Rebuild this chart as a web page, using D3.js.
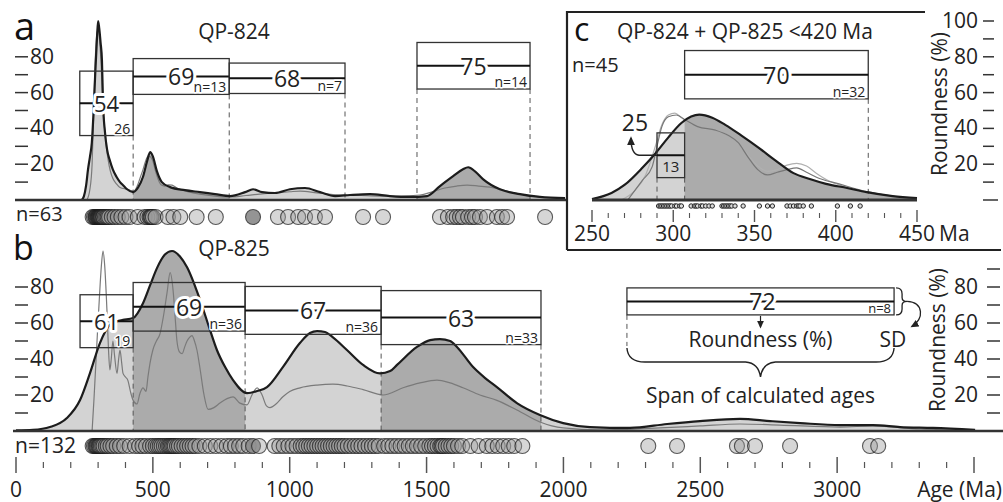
<!DOCTYPE html>
<html><head><meta charset="utf-8">
<script src="https://cdn.jsdelivr.net/npm/d3@7"></script>
<style>
body{margin:0;background:#fff}
svg{display:block;font-family:"Open Sans",sans-serif}
</style></head><body>
<svg width="1003" height="502"></svg>
<script>
// ---------------- DATA ----------------
const ageTicks = [0,500,1000,1500,2000,2500,3000];
const ageTicksC = [250,300,350,400,450];
const roundTicksLeft = [20,40,60,80];
const roundTicksRightA = [20,40,60,80,100];
const roundTicksRightB = [20,40,60,80];

// panel a : QP-824  (KDE curves, [age Ma, relative height])
const kdeA_thick = [[240,0],[248,2],[256,8],[263,17],[270,24],[277,32],[283,48],[289,69],[296,91],[300,100],[304,96],[309,88],[314,78],[318,54],[325,38],[333,28],[343,22],[354,17],[367,13],[380,10],[393,8],[406,6],[428,4.4],[446,7],[464,13],[479,21.7],[490,26.7],[500,24.4],[515,16],[533,10],[563,7.2],[617,5.5],[672,4.4],[727,3.3],[782,2.2],[837,4.4],[866,6],[899,4.4],[946,3.9],[1001,6],[1056,6.7],[1111,4.4],[1166,2.2],[1220,2.8],[1293,3.3],[1366,2.2],[1440,1.7],[1502,2.2],[1549,7.8],[1597,13.3],[1633,17.2],[1652,18.3],[1677,16],[1706,11.7],[1768,6],[1841,3.3],[1914,1.7],[2006,1]];
const kdeA_thin = [[259,0],[270,6],[278,20],[284,50],[289,76],[295,92],[300,95],[306,88],[311,76],[316,58],[322,43],[329,31],[336,23],[345,16],[354,12],[367,9],[380,7],[406,6],[428,5],[437,6],[446,9],[455,13],[464,17],[474,22],[483,24.5],[492,24],[500,21.7],[510,16],[519,11.7],[530,8.5],[544,7.8],[557,8.5],[570,8.3],[585,7],[599,6],[635,4.4],[672,3.3],[727,2.2],[782,1.7],[840,2.5],[891,3.3],[950,4],[1000,4.6],[1038,5],[1100,4],[1184,2.8],[1260,2.5],[1330,2.2],[1400,2.2],[1476,2.8],[1520,4.5],[1567,6.7],[1610,7.8],[1648,8.3],[1690,7.8],[1732,7.2],[1780,5.5],[1823,3.9],[1870,2.5],[1914,1.7],[2006,0.8]];
const spansA = [[233,428],[428,779],[779,1202],[1465,1878]];
const meanA = [54,69,68,75];
const sdA = [18,10,8.5,13];
const nA = [26,13,7,14];
const dashA = [428,779,1202,1465,1878];
const darkBandsA = [[428,779],[1465,1878]];
const dotsA = [280,285,290,292,295,298,300,302,304,306,308,310,312,315,318,320,325,330,335,340,350,360,372,385,400,415,
  445,470,480,488,492,495,500,510,555,575,600,660,730,
  866,957,994,1031,1056,1092,1129,
  1268,1341,
  1549,1578,1597,1610,1622,1633,1652,1666,1677,1695,1721,1757,1776,1794,
  1933];
const darkDotsA = [866];

// panel b : QP-825
const kdeB_thick = [[0,0.3],[62,0.6],[124,2.2],[186,7.2],[234,17.2],[270,32],[307,49],[343,59],[369,61],[391,61.7],[428,62.8],[464,71],[490,81],[515,90.5],[544,98],[570,100],[599,97],[625,91],[672,73],[709,56],[734,45],[764,35.5],[793,28.3],[844,21],[881,22.2],[917,24.4],[975,35.5],[1038,49],[1074,54.4],[1100,55.5],[1129,55],[1158,52],[1209,45],[1268,36.7],[1330,32],[1367,33.3],[1392,36.7],[1465,46.7],[1513,50.5],[1549,51],[1586,50],[1611,46.7],[1670,35.5],[1714,29.4],[1757,24.4],[1830,15.5],[1914,8.9],[1999,4.4],[2097,2.2],[2243,1.7],[2379,3.9],[2499,5.5],[2645,6.7],[2755,5.5],[2865,4.4],[3011,3.3],[3131,3.3],[3230,2.2],[3350,1.7],[3504,0.6]];
const kdeB_thin = [[278,0],[285,18],[296,50],[305,75],[312,92],[318,100],[324,92],[332,68],[338,45],[343,34],[348,40],[354,50],[360,42],[369,32],[375,40],[380,45],[386,38],[391,32],[400,30],[409,28],[418,22],[428,17],[442,15],[453,21],[464,24],[475,22],[482,30],[490,38],[500,45],[513,50],[526,54],[540,65],[552,77],[563,88],[574,78],[582,62],[588,50],[597,44],[607,43],[617,47],[625,50],[634,52],[643,53],[652,50],[661,45],[672,35],[687,20],[702,12],[723,13],[745,15.5],[771,18],[793,19],[818,15.5],[844,14.5],[862,20],[881,24],[899,20],[915,14],[928,13],[950,15],[975,19],[1000,22],[1038,24],[1100,25.5],[1158,26],[1210,25],[1268,23],[1341,20],[1414,24],[1476,26.7],[1538,28.3],[1586,26.7],[1633,24],[1695,20],[1757,17],[1830,11.7],[1914,5],[1999,1.7],[2134,0.6],[2353,1.7],[2499,2.8],[2645,3.9],[2791,3.3],[3011,2.2],[3131,2.8],[3303,1.1],[3504,0.5]];
const spansB = [[234,428],[428,837],[837,1334],[1334,1918]];
const meanB = [61,69,67,63];
const sdB = [14.7,13.5,13.3,15];
const nB = [19,36,36,33];
const dashB = [428,837,1334,1918];
const darkBandsB = [[428,837],[1334,1918]];
const dotsB = [280,285,290,293,296,300,303,306,310,315,320,328,335,345,355,368,380,395,415,
  435,450,462,475,490,500,510,518,525,532,540,548,555,560,565,570,575,580,588,595,605,615,625,635,645,655,670,690,710,730,750,770,785,800,815,830,
  850,866,888,945,962,978,995,1010,1025,1040,1050,1060,1070,1080,1090,1100,1110,1120,1130,1140,1150,1160,1170,1180,1190,1200,1212,1225,1238,1250,1262,1275,1288,1300,1312,1325,
  1345,1360,1375,1390,1405,1420,1435,1450,1465,1480,1495,1510,1520,1530,1540,1550,1555,1560,1570,1580,1590,1600,1615,1630,1660,1690,1720,1740,1760,1780,1800,1820,1850,
  2310,2415,2634,2652,2700,2828,3120,3150];
const darkDotsB = [866];

// legend (drawn on panel b scales)
const legendSpan = [2232,3208];
const legendMean = 72;
const legendSd = 7.5;
const legendN = 8;

// panel c : QP-824 + QP-825 <420 Ma
const kdeC_thick = [[250,0.5],[262,3.9],[270,8.4],[281,18],[289,26],[297,35],[305,43],[311,46.6],[316,47.7],[324,46],[332,42],[342,36],[352,29.6],[363,22],[374,15],[384,11.7],[394,9],[407,6.7],[419,4.4],[435,2.2],[450,1]];
const kdeC_thin = [[272,0],[281,11],[287,18.5],[290,30],[293,41],[297,46.5],[302,47.5],[307,45],[315,41],[326,39],[334,36],[340,32],[346,24],[352,17],[358,14],[364,15.5],[370,17],[376,18],[382,15.5],[390,12],[402,9],[415,5.6],[431,2.8],[450,0.5]];
const kdeC_thin2 = [[268,0],[276,5],[283,14],[289,30],[293,42],[297,47.5],[301,48.5],[305,46],[310,43],[318,40],[326,39],[334,36],[340,32],[346,25],[352,19],[358,16],[364,17],[370,19.5],[376,20.5],[382,19],[388,15],[395,11],[405,7.5],[415,5],[430,2.5],[450,0.5]];
const spansC = [[290,307],[307,420]];
const meanC = [25,70];
const sdC = [12.5,13.5];
const nC = [13,32];
const dashC = [290,307,420];
const darkBandsC = [[307,450]];
const dotsC = [291,292,293,294,295,296,297,298,299,301,302,304,305,
  311,313,314,315,317,318,320,322,324,330,331,332,333,334,335,336,338,343,353,358,361,370,372,374,376,377,378,380,385,401,409,415];

// ---------------- DRAWING ----------------
const LIGHT = "#d3d3d3", DARK = "#ababab";
const svg = d3.select("svg");
const defs = svg.append("defs");
defs.append("marker").attr("id","arr").attr("viewBox","0 0 10 10")
  .attr("refX",7).attr("refY",5).attr("markerWidth",7).attr("markerHeight",7)
  .attr("orient","auto").append("path").attr("d","M0,1L9,5L0,9z").attr("fill","#222");

const x  = d3.scaleLinear().domain([0,3500]).range([16,974]);
const yA = d3.scaleLinear().domain([0,100]).range([200,21]);
const yB = d3.scaleLinear().domain([0,100]).range([431,251]);
const xC = d3.scaleLinear().domain([250,450]).range([592,917]);
const yC = d3.scaleLinear().domain([0,100]).range([200,21]);

let clipN = 0;
function curves(g, xs, ys, thick, thins, darkBands){
  const area = d3.area().x(d=>xs(d[0])).y0(ys(0)).y1(d=>ys(d[1])).curve(d3.curveMonotoneX);
  const line = d3.line().x(d=>xs(d[0])).y(d=>ys(d[1])).curve(d3.curveMonotoneX);
  g.append("path").attr("d",area(thick)).attr("fill",LIGHT);
  darkBands.forEach(b=>{
    const id = "clp"+(clipN++);
    defs.append("clipPath").attr("id",id).append("rect")
      .attr("x",xs(b[0])).attr("y",0).attr("width",xs(b[1])-xs(b[0])).attr("height",502);
    g.append("path").attr("d",area(thick)).attr("fill",DARK).attr("clip-path",`url(#${id})`);
  });
  thins.forEach(t=>g.append("path").attr("d",line(t.d)).attr("fill","none")
    .attr("stroke",t.c).attr("stroke-width",1.2));
  return line;
}
function halo(sel,w){ return sel.attr("stroke","#fff").attr("stroke-width",w).attr("paint-order","stroke").attr("stroke-linejoin","round"); }

function dashed(g, xs, ys, edges, spans, means, sds){
  edges.forEach(e=>{
    let yb = -Infinity;
    spans.forEach((s,i)=>{ if(s[0]===e||s[1]===e) yb = Math.max(yb, ys(means[i]-sds[i])); });
    g.append("line").attr("x1",xs(e)).attr("x2",xs(e)).attr("y1",yb).attr("y2",ys(0))
      .attr("stroke","#555").attr("stroke-width",1).attr("stroke-dasharray","5,4");
  });
}
function boxes(g, xs, ys, spans, means, sds, ns){
  spans.forEach((s,i)=>{
    const x0=xs(s[0]), x1=xs(s[1]), yt=ys(means[i]+sds[i]), yb=ys(means[i]-sds[i]), ym=ys(means[i]);
    const w = x1-x0;
    g.append("rect").attr("x",x0).attr("y",yt).attr("width",w).attr("height",yb-yt)
      .attr("fill","none").attr("stroke","#333").attr("stroke-width",1.3);
    g.append("line").attr("x1",x0).attr("x2",x1).attr("y1",ym).attr("y2",ym)
      .attr("stroke","#111").attr("stroke-width",2);
    if (w < 35) {
      g.append("text").attr("x",(x0+x1)/2).attr("y",(ym+yb)/2).attr("text-anchor","middle")
        .attr("dominant-baseline","central").attr("font-size",15).attr("fill","#222").text(ns[i]);
    } else {
      halo(g.append("text").attr("x",(x0+x1)/2).attr("y",ym).attr("text-anchor","middle")
        .attr("dominant-baseline","central").attr("font-size",w>60?23:22).attr("fill","#222"),6).text(means[i]);
      halo(g.append("text").attr("x",x1-3).attr("y",yb-2).attr("text-anchor","end")
        .attr("font-size",14).attr("fill","#222"),3).text((w>60?"n=":"")+ns[i]);
    }
  });
}
function dots(g, xs, ages, cy, r, dark){
  g.selectAll(null).data(ages).enter().append("circle")
    .attr("cx",d=>xs(d)).attr("cy",cy).attr("r",r)
    .attr("fill",d=>dark.includes(d)?"#888":"#999").attr("fill-opacity",d=>dark.includes(d)?0.9:0.4)
    .attr("stroke","#1a1a1a").attr("stroke-opacity",0.7).attr("stroke-width",1.1);
}
function leftAxis(g, ys, labels){
  for(let v=10; v<=80; v+=10){
    g.append("line").attr("x1",15).attr("x2",28).attr("y1",ys(v)).attr("y2",ys(v)).attr("stroke","#333").attr("stroke-width",1.5);
  }
  labels.forEach(v=>g.append("text").attr("x",30).attr("y",ys(v)+7).attr("font-size",21).attr("fill","#222").text(v));
}
function rightAxis(g, ys, from, to, labels, x1, x2){
  for(let v=from; v<=to; v+=10){
    g.append("line").attr("x1",x1).attr("x2",v===0?x2+4:x2).attr("y1",ys(v)).attr("y2",ys(v)).attr("stroke","#333").attr("stroke-width",1.5);
  }
  labels.forEach(v=>g.append("text").attr("x",978).attr("y",ys(v)+7)
    .attr("text-anchor","end").attr("font-size",21).attr("fill","#222").text(v));
}

// ---- panel a ----
const gA = svg.append("g");
const lineA = curves(gA, x, yA, kdeA_thick, [{d:kdeA_thin,c:"#7a7a7a"}], darkBandsA);
dashed(gA, x, yA, dashA, spansA, meanA, sdA);
gA.append("path").attr("d",lineA(kdeA_thick)).attr("fill","none").attr("stroke","#1c1c1c").attr("stroke-width",2.2);
gA.append("line").attr("x1",15).attr("x2",567).attr("y1",yA(0)).attr("y2",yA(0)).attr("stroke","#333").attr("stroke-width",2.5);
boxes(gA, x, yA, spansA, meanA, sdA, nA);
dots(gA, x, dotsA, 217, 7.5, darkDotsA);
leftAxis(gA, yA, roundTicksLeft);
gA.append("text").attr("x",14).attr("y",40).attr("font-size",38).attr("fill","#111").text("a");
gA.append("text").attr("x",234).attr("y",39).attr("text-anchor","middle").attr("font-size",21).attr("fill","#222").text("QP-824");
gA.append("text").attr("x",16).attr("y",221).attr("font-size",20).attr("fill","#222").text("n="+dotsA.length);

// ---- panel b ----
const gB = svg.append("g");
const lineB = curves(gB, x, yB, kdeB_thick, [{d:kdeB_thin,c:"#7a7a7a"}], darkBandsB);
dashed(gB, x, yB, dashB, spansB, meanB, sdB);
gB.append("path").attr("d",lineB(kdeB_thick)).attr("fill","none").attr("stroke","#1c1c1c").attr("stroke-width",2.2);
gB.append("line").attr("x1",13).attr("x2",1003).attr("y1",yB(0)).attr("y2",yB(0)).attr("stroke","#333").attr("stroke-width",2.5);
boxes(gB, x, yB, spansB, meanB, sdB, nB);
dots(gB, x, dotsB, 446, 7.5, darkDotsB);
leftAxis(gB, yB, roundTicksLeft);
rightAxis(gB, yB, 10, 90, roundTicksRightB, 987, 1000);
gB.append("text").attr("x",13).attr("y",260).attr("font-size",34).attr("fill","#111").text("b");
gB.append("text").attr("x",234).attr("y",256).attr("text-anchor","middle").attr("font-size",21).attr("fill","#222").text("QP-825");
gB.append("text").attr("x",15).attr("y",453).attr("font-size",21).attr("fill","#222").text("n="+dotsB.length);
gB.append("text").attr("transform","translate(945,340) rotate(-90)").attr("text-anchor","middle")
  .attr("font-size",21).attr("fill","#222").text("Roundness (%)");

// bottom axis
const gX = svg.append("g");
d3.range(0,3501,100).forEach(a=>{
  const maj = a%500===0;
  gX.append("line").attr("x1",x(a)).attr("x2",x(a)).attr("y1",maj?457:462).attr("y2",maj?473:468)
    .attr("stroke","#555").attr("stroke-width",maj?1.5:1.2);
});
ageTicks.forEach(a=>gX.append("text").attr("x",x(a)).attr("y",497).attr("text-anchor","middle")
  .attr("font-size",21).attr("fill","#222").text(a));
gX.append("text").attr("x",1002).attr("y",497).attr("text-anchor","end").attr("font-size",21).attr("fill","#222").text("Age (Ma)");

// legend
const gL = svg.append("g");
{
  const x0=x(legendSpan[0]), x1=x(legendSpan[1]);
  const yt=yB(legendMean+legendSd), yb=yB(legendMean-legendSd), ym=yB(legendMean), xm=(x0+x1)/2;
  gL.append("rect").attr("x",x0).attr("y",yt).attr("width",x1-x0).attr("height",yb-yt).attr("fill","#fff").attr("stroke","#333").attr("stroke-width",1.3);
  gL.append("line").attr("x1",x0).attr("x2",x1).attr("y1",ym).attr("y2",ym).attr("stroke","#111").attr("stroke-width",2);
  halo(gL.append("text").attr("x",xm+2).attr("y",ym).attr("text-anchor","middle").attr("dominant-baseline","central").attr("font-size",23).attr("fill","#222"),6).text(legendMean);
  gL.append("text").attr("x",x1-3).attr("y",yb-2).attr("text-anchor","end").attr("font-size",13).attr("fill","#222").text("n="+legendN);
  gL.append("line").attr("x1",xm).attr("x2",xm).attr("y1",yb+1).attr("y2",yb+12).attr("stroke","#222").attr("stroke-width",1.2).attr("marker-end","url(#arr)");
  gL.append("text").attr("x",xm).attr("y",347).attr("text-anchor","middle").attr("font-size",21).attr("fill","#222").text("Roundness (%)");
  gL.append("text").attr("x",893).attr("y",347).attr("text-anchor","middle").attr("font-size",21).attr("fill","#222").text("SD");
  gL.append("line").attr("x1",x0).attr("x2",x0).attr("y1",yb).attr("y2",346).attr("stroke","#555").attr("stroke-dasharray","5,4");
  // SD brace
  const bx = x1+2;
  gL.append("path").attr("d",`M${bx},${yt} Q${bx+6},${yt} ${bx+6},${yt+6} L${bx+6},${ym-4} Q${bx+6},${ym} ${bx+11},${ym} Q${bx+6},${ym} ${bx+6},${ym+4} L${bx+6},${yb-6} Q${bx+6},${yb} ${bx},${yb}`)
    .attr("fill","none").attr("stroke","#222").attr("stroke-width",1.3);
  gL.append("path").attr("d",`M${bx+11},${ym} C${bx+28},${ym+1} ${bx+28},${ym+18} ${bx+16},${ym+25}`)
    .attr("fill","none").attr("stroke","#222").attr("stroke-width",1.3).attr("marker-end","url(#arr)");
  // span brace
  gL.append("path").attr("d",`M${x0},348 Q${x0+1},362 ${x0+18},362 L${xm-15},362 Q${xm-2},363 ${xm},377 Q${xm+2},363 ${xm+15},362 L${x1-18},362 Q${x1-1},362 ${x1},348`)
    .attr("fill","none").attr("stroke","#222").attr("stroke-width",1.4);
  gL.append("text").attr("x",xm).attr("y",403).attr("text-anchor","middle").attr("font-size",21).attr("fill","#222").text("Span of calculated ages");
}

// ---- panel c ----
const gC = svg.append("g");
gC.append("rect").attr("x",567).attr("y",12).attr("width",436).attr("height",238).attr("fill","#fff");
const lineC = curves(gC, xC, yC, kdeC_thick, [{d:kdeC_thin2,c:"#b0b0b0"},{d:kdeC_thin,c:"#777"}], darkBandsC);
dashed(gC, xC, yC, dashC, spansC, meanC, sdC);
gC.append("path").attr("d",lineC(kdeC_thick)).attr("fill","none").attr("stroke","#1c1c1c").attr("stroke-width",2.2);
gC.append("line").attr("x1",xC(250)).attr("x2",xC(450)).attr("y1",yC(0)).attr("y2",yC(0)).attr("stroke","#333").attr("stroke-width",3);
boxes(gC, xC, yC, spansC, meanC, sdC, nC);
{
  const xl = xC(spansC[0][0]), ym = yC(meanC[0]);
  gC.append("path").attr("d",`M${xl},${ym} L${xl-18},${ym} Q${xl-26},${ym-1} ${xl-26},${ym-17}`)
    .attr("fill","none").attr("stroke","#222").attr("stroke-width",1.4).attr("marker-end","url(#arr)");
  gC.append("text").attr("x",xl-22).attr("y",ym-24).attr("text-anchor","middle")
    .attr("font-size",23).attr("fill","#222").text(meanC[0]);
}
gC.selectAll(null).data(dotsC).enter().append("circle").attr("cx",d=>xC(d)).attr("cy",206).attr("r",2.2)
  .attr("fill","#ddd").attr("stroke","#222").attr("stroke-width",1);
d3.range(250,451,10).forEach(a=>{
  const maj = a%50===0;
  gC.append("line").attr("x1",xC(a)).attr("x2",xC(a)).attr("y1",maj?210:213).attr("y2",maj?222:218)
    .attr("stroke","#555").attr("stroke-width",maj?1.4:1.1);
});
ageTicksC.forEach(a=>gC.append("text").attr("x",xC(a)).attr("y",241).attr("text-anchor","middle")
  .attr("font-size",21).attr("fill","#222").text(a));
gC.append("text").attr("x",939).attr("y",241).attr("font-size",21).attr("fill","#222").text("Ma");
gC.append("path").attr("d","M567,250 L567,12 L925,12").attr("fill","none").attr("stroke","#222").attr("stroke-width",2.2);
gC.append("line").attr("x1",567).attr("x2",1001).attr("y1",250).attr("y2",250).attr("stroke","#222").attr("stroke-width",2.2);
gC.append("text").attr("x",574).attr("y",41).attr("font-size",32).attr("fill","#111").text("c");
gC.append("text").attr("x",617).attr("y",39).attr("font-size",21).attr("fill","#222").text("QP-824 + QP-825 <420 Ma");
gC.append("text").attr("x",572).attr("y",72).attr("font-size",20).attr("fill","#222").text("n="+dotsC.length);
// panel a right axis (sits in panel c corner)
rightAxis(gC, yA, 0, 100, roundTicksRightA, 983, 994);
gC.append("text").attr("transform","translate(947,104) rotate(-90)").attr("text-anchor","middle")
  .attr("font-size",21).attr("fill","#222").text("Roundness (%)");
</script>
</body></html>
